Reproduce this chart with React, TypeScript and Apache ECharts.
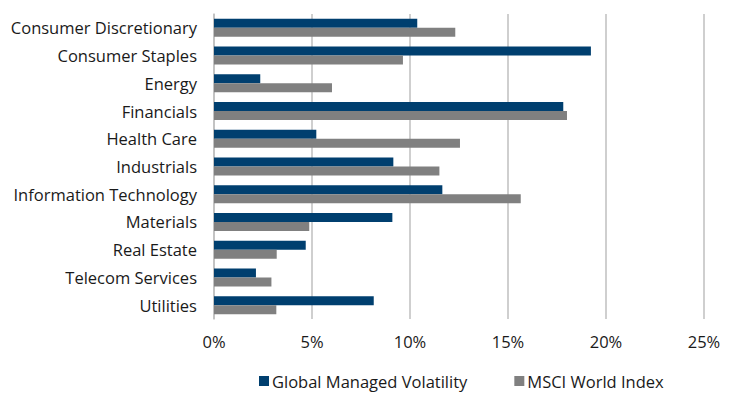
import React, { useEffect, useRef } from "react";
import * as echarts from "echarts";

const categories = [
  "Consumer Discretionary",
  "Consumer Staples",
  "Energy",
  "Financials",
  "Health Care",
  "Industrials",
  "Information Technology",
  "Materials",
  "Real Estate",
  "Telecom Services",
  "Utilities",
];
const globalManagedVolatility = [10.37, 19.23, 2.36, 17.82, 5.22, 9.15, 11.65, 9.1, 4.68, 2.14, 8.15];
const msciWorldIndex = [12.31, 9.64, 6.02, 18.01, 12.55, 11.5, 15.65, 4.86, 3.2, 2.93, 3.18];
const seriesNames = ["Global Managed Volatility", "MSCI World Index"];

const FONT = "Open Sans";
const FS = 16.5;

export default function App() {
  const ref = useRef<HTMLDivElement>(null);
  useEffect(() => {
    const chart = echarts.init(ref.current!, null, { renderer: "svg" });
    chart.setOption({
      animation: false,
      backgroundColor: "#ffffff",
      textStyle: { fontFamily: FONT },
      grid: { left: 214, right: 26, top: 14, bottom: 74 },
      legend: {
        top: 372,
        left: 259,
        padding: 0,
        itemWidth: 10,
        itemHeight: 10,
        itemGap: 47,
        icon: "rect",
        textStyle: { fontFamily: FONT, fontSize: FS, lineHeight: 18, color: "#1a1a1a", padding: [0, 0, 0, -2] },
        data: seriesNames,
      },
      xAxis: {
        type: "value",
        min: 0,
        max: 25,
        interval: 5,
        axisLabel: {
          formatter: (v: number) => v + "%",
          fontFamily: FONT,
          fontSize: FS,
          color: "#1a1a1a",
          margin: 14,
        },
        splitLine: { show: true, lineStyle: { color: "#bfbfbf", width: 1.5 } },
        axisLine: { show: false },
        axisTick: { show: false },
      },
      yAxis: {
        type: "category",
        data: categories,
        inverse: true,
        axisLabel: { fontFamily: FONT, fontSize: FS, color: "#1a1a1a", margin: 17 },
        axisLine: { show: true, lineStyle: { color: "#bfbfbf", width: 1.5 } },
        axisTick: { show: false },
      },
      series: [
        {
          name: seriesNames[0],
          type: "bar",
          data: globalManagedVolatility,
          itemStyle: { color: "#003f6f" },
          barWidth: 9,
          barGap: "0%",
        },
        {
          name: seriesNames[1],
          type: "bar",
          data: msciWorldIndex,
          itemStyle: { color: "#808080" },
          barWidth: 9,
          barGap: "0%",
        },
      ],
    });
    return () => chart.dispose();
  }, []);
  return <div ref={ref} style={{ width: 730, height: 393, position: "absolute", left: 0, top: 0 }} />;
}
